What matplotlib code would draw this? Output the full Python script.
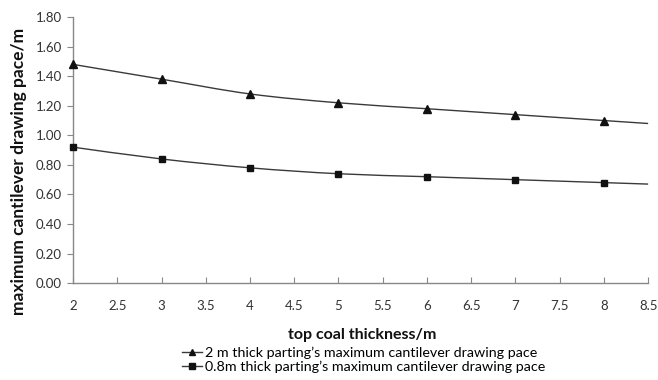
import numpy as np
import matplotlib
matplotlib.use("Agg")
import matplotlib.pyplot as plt
from matplotlib.path import Path
from matplotlib.patches import PathPatch
from matplotlib.lines import Line2D

x_vals = [2, 3, 4, 5, 6, 7, 8, 8.5]
y_2m = [1.48, 1.38, 1.28, 1.22, 1.18, 1.14, 1.10, 1.08]
y_08m = [0.92, 0.84, 0.78, 0.74, 0.72, 0.70, 0.68, 0.67]
x_ticks = [2, 2.5, 3, 3.5, 4, 4.5, 5, 5.5, 6, 6.5, 7, 7.5, 8, 8.5]
x_tick_labels = ["2", "2.5", "3", "3.5", "4", "4.5", "5", "5.5", "6", "6.5", "7", "7.5", "8", "8.5"]
y_ticks = [0.0, 0.2, 0.4, 0.6, 0.8, 1.0, 1.2, 1.4, 1.6, 1.8]
labels = ["2 m thick parting\u2019s maximum cantilever drawing pace",
          "0.8m thick parting\u2019s maximum cantilever drawing pace"]

plt.rcParams['font.family'] = ['Lato', 'DejaVu Sans']

fig = plt.figure(figsize=(6.58, 3.80), dpi=100)
ax = fig.add_axes([0.111, 0.255, 0.874, 0.70])

def smooth_path(xs, ys, t=1/6):
    xs = np.asarray(xs, float); ys = np.asarray(ys, float)
    verts = [(xs[0], ys[0])]
    codes = [Path.MOVETO]
    n = len(xs)
    for i in range(n - 1):
        p0 = (xs[max(i - 1, 0)], ys[max(i - 1, 0)])
        p1 = (xs[i], ys[i]); p2 = (xs[i + 1], ys[i + 1])
        p3 = (xs[min(i + 2, n - 1)], ys[min(i + 2, n - 1)])
        c1 = (p1[0] + (p2[0] - p0[0]) * t, p1[1] + (p2[1] - p0[1]) * t)
        c2 = (p2[0] - (p3[0] - p1[0]) * t, p2[1] - (p3[1] - p1[1]) * t)
        verts += [c1, c2, p2]
        codes += [Path.CURVE4] * 3
    return Path(verts, codes)

for ys, mk, ms in [(y_2m, '^', 5.5), (y_08m, 's', 5)]:
    ax.add_patch(PathPatch(smooth_path(x_vals, ys), fill=False, edgecolor='#3a3a3a', lw=1.0, clip_on=False))
    ax.plot(x_vals[:-1], ys[:-1], linestyle='none', marker=mk, ms=ms, color='#111111', clip_on=False, zorder=5)

ax.set_xlim(2, 8.5)
ax.set_ylim(0, 1.8)
ax.set_xticks(x_ticks)
ax.set_xticklabels(x_tick_labels)
ax.set_yticks(y_ticks)
ax.set_yticklabels([f"{v:.2f}" for v in y_ticks])
for s in ['top', 'right']:
    ax.spines[s].set_visible(False)
for s in ['left', 'bottom']:
    ax.spines[s].set_color('#888888')
    ax.spines[s].set_linewidth(1.0)
ax.tick_params(axis='x', direction='in', length=4, color='#888888', labelsize=9.5, pad=12, labelcolor='#333333')
ax.tick_params(axis='y', direction='out', length=4, color='#888888', labelsize=9.5, pad=4, labelcolor='#333333')

fig.text(19 / 658, 1 - 171 / 380, "maximum cantilever drawing pace/m", ha='center', va='center',
         rotation=90, fontsize=12.5, fontweight='bold', color='#111111')

fig.text(362 / 658, 1 - 335 / 380, "top coal thickness/m", ha='center', va='center',
         fontsize=11.5, fontweight='bold', color='#111111')

handles = [Line2D([], [], color='#3a3a3a', lw=1.0, marker='^', ms=4.5, markerfacecolor='#111111', markeredgecolor='#111111'),
           Line2D([], [], color='#3a3a3a', lw=1.0, marker='s', ms=4, markerfacecolor='#111111', markeredgecolor='#111111')]
fig.legend(handles, labels, loc='center', bbox_to_anchor=(364 / 658, 1 - 360 / 380), frameon=False,
           fontsize=10.3, handlelength=1.4, handletextpad=0.2, labelspacing=0.15, borderpad=0)

fig.savefig("out.png", dpi=100)
